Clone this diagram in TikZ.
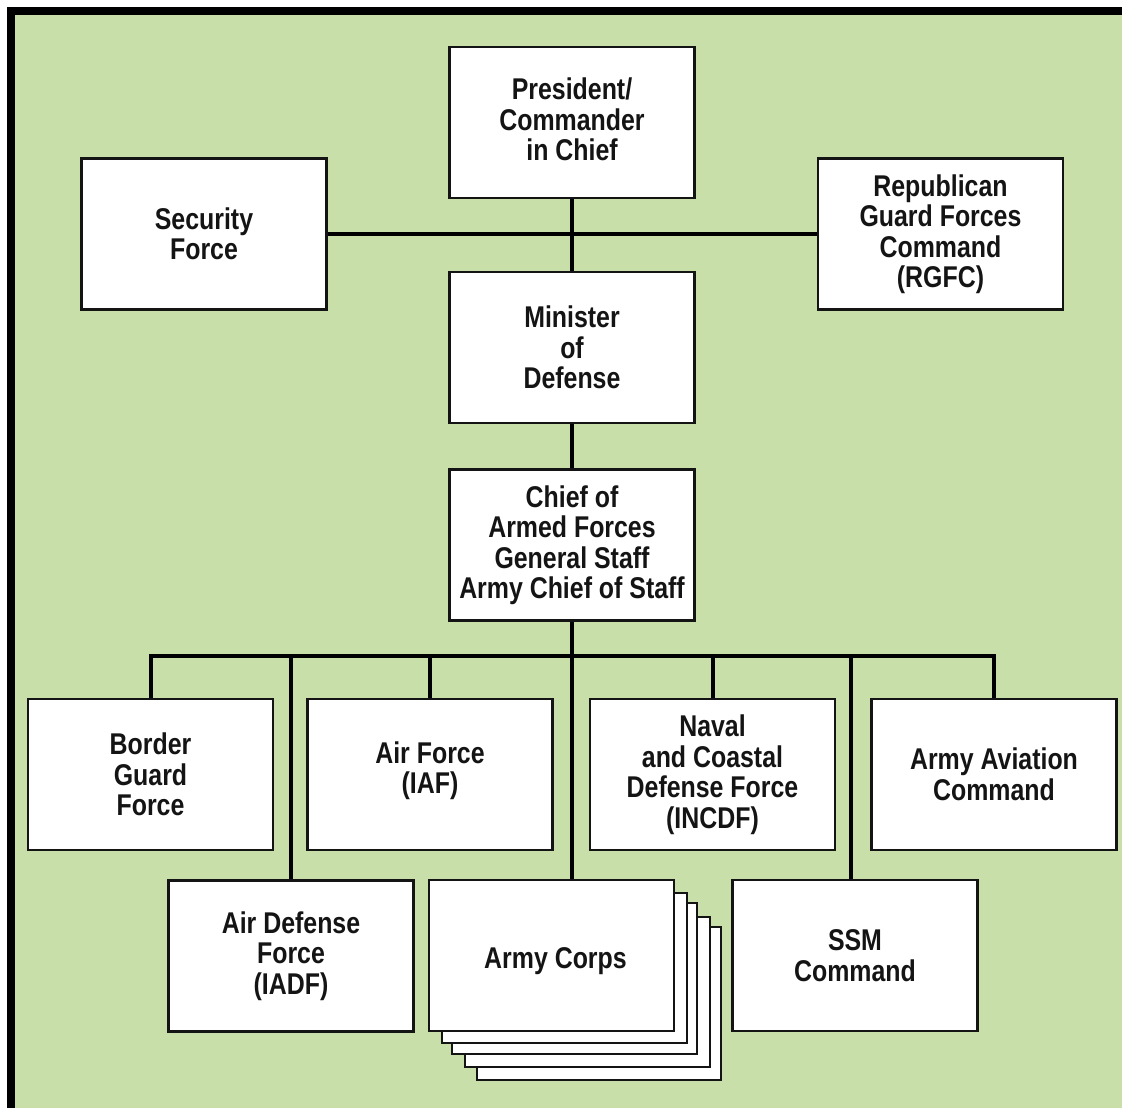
\documentclass[tikz,border=0pt]{standalone}
\usepackage{fontspec}
\setmainfont{Liberation Sans}[FakeStretch=0.83]
\definecolor{bggreen}{RGB}{200,223,170}
\definecolor{inkblack}{RGB}{20,20,20}
\begin{document}
\begin{tikzpicture}[x=1pt,y=-1pt,
  orgbox/.style={draw=inkblack, line width=2.8, fill=white, minimum width=245, minimum height=151,
    align=center, inner sep=0pt, text=inkblack, font=\bfseries\fontsize{30}{30.5}\selectfont},
  link/.style={draw=black, line width=4},
  stackbox/.style={draw=inkblack, line width=2.8, fill=white}]
\useasboundingbox (0,0) rectangle (1122,1108);
\fill[bggreen] (11,11) rectangle (1122,1108);
\draw[black, line width=8] (11,1108) -- (11,11) -- (1122,11);

% nodes
\node[orgbox] (pres) at (572,122.5) {President/\\Commander\\in Chief\vspace{6pt}};
\node[orgbox] (sec) at (204,234) {Security\\Force};
\node[orgbox] (rgfc) at (940.5,234) {Republican\\Guard Forces\\Command\\(RGFC)};
\node[orgbox] (min) at (572,347.5) {Minister\\of\\Defense};
\node[orgbox] (chief) at (572,545) {Chief of\\Armed Forces\\General Staff\\Army Chief of Staff};
\node[orgbox] (bg) at (150.5,774.5) {Border\\Guard\\Force};
\node[orgbox] (af) at (430,774.5) {Air Force\\(IAF)\vspace{8pt}};
\node[orgbox] (naval) at (712.5,774.5) {Naval\\and Coastal\\Defense Force\\(INCDF)};
\node[orgbox] (aac) at (994,774.5) {Army Aviation\\Command};
\node[orgbox] (adf) at (291,956) {Air Defense\\Force\\(IADF)};
\node[orgbox] (ssm) at (855,955.5) {SSM\\Command};

% army corps stack
\draw[stackbox] (477,927) rectangle (721,1080);
\draw[stackbox] (465,917) rectangle (710,1067);
\draw[stackbox] (452,903) rectangle (697,1054);
\draw[stackbox] (442,893) rectangle (687,1043);
\node[orgbox] (corps) at (551.5,955.5) {\hspace*{8pt}\raisebox{-6pt}[\height][\depth]{Army Corps}};

% connectors
\coordinate (busL) at (150.5,656);
\coordinate (busR) at (994,656);
\draw[link] (sec.east) -- (rgfc.west);
\draw[link] (pres.south) -- (min.north);
\draw[link] (min.south) -- (chief.north);
\draw[link] (chief.south) -- (chief.south |- corps.north);
\draw[link] (bg.north) -- (busL) -- (busR) -- (aac.north);
\draw[link] (adf.north) -- (adf.north |- busL);
\draw[link] (af.north) -- (af.north |- busL);
\draw[link] (naval.north) -- (naval.north |- busL);
\draw[link] ([xshift=-4]ssm.north) -- ([xshift=-4]ssm.north |- busL);
\end{tikzpicture}
\end{document}
